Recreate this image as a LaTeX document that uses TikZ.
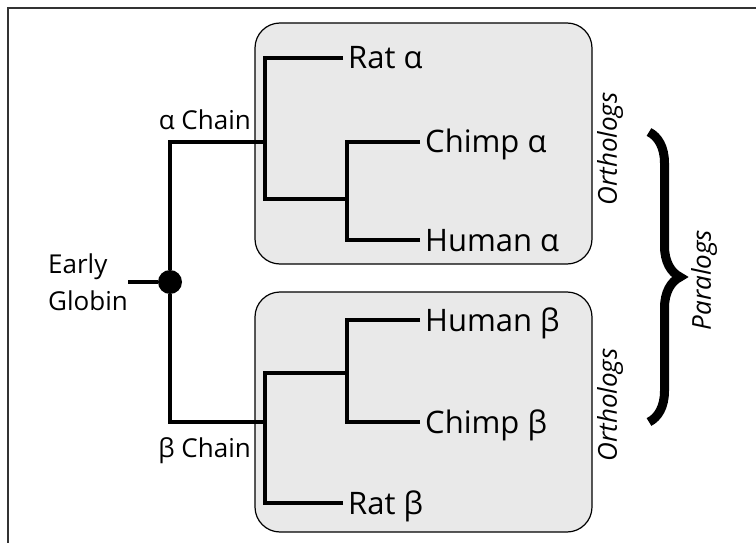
\documentclass[tikz,border=0pt]{standalone}
\usepackage{fontspec}
\setmainfont{Open Sans}
\usetikzlibrary{decorations.pathreplacing}
\definecolor{boxgray}{HTML}{E9E9E9}

\begin{document}
\begin{tikzpicture}[x=1pt, y=-1pt]
\tikzstyle{tip}=[anchor=west, inner xsep=5pt, inner ysep=0pt, text height=22pt, text depth=0pt, font=\fontsize{31}{37}\selectfont];
\tikzstyle{lbl}=[inner sep=0pt, font=\fontsize{26}{37}\selectfont];
\tikzstyle{ortho}=[lbl, rotate=90, anchor=north, font=\fontsize{26}{37}\selectfont\itshape];
\tikzstyle{box}=[draw, line width=1.2pt, fill=boxgray, rounded corners=25pt, minimum width=337pt];
\tikzstyle{branch}=[line width=3.5pt];
\useasboundingbox (0,0) rectangle (756,543);
\draw [line width=1.5pt, black!80] (8,543) |- (756,8); % frame
\node [box, minimum height=241pt] (boxA) at (423.5,143.5) {};
\node [box, minimum height=240pt] (boxB) at (423.5,412) {};
\node [circle, fill, inner sep=0pt, minimum size=24pt] (root) at (170,282) {};
\node [lbl, align=left, anchor=west] (early) at (48,282) {Early\\Globin};
\node [lbl, anchor=base east] (cA) at (251,130) {α Chain};
\node [lbl, anchor=base east] (cB) at (251,457) {β Chain};
\coordinate (jA) at (265,142);
\coordinate (kA) at (347,199);
\coordinate (jB) at (265,422);
\coordinate (kB) at (347,373);
\node [tip] (ratA) at (343,58) {Rat α};
\node [tip] (chimpA) at (420,142) {Chimp α};
\node [tip] (humanA) at (420,240) {Human α};
\node [tip] (humanB) at (420,320) {Human β};
\node [tip] (chimpB) at (420,422) {Chimp β};
\node [tip] (ratB) at (343,503) {Rat β};
\draw [branch] (early) -- (root)
(root) |- (jA) (root) |- (jB)
(ratA.west) -| (jA) (kA) -| (jA)
(chimpA.west) -| (kA) (humanA.west) -| (kA)
(ratB.west) -| (jB) (kB) -| (jB)
(humanB.west) -| (kB) (chimpB.west) -| (kB);
\node [ortho] (orthA) at (597,149) {Orthologs};
\node [ortho] (orthB) at (597,405) {Orthologs};
\node [ortho] (para) at (691,280) {Paralogs};
\coordinate (bt) at (649,132);
\coordinate (bb) at (649,422);
\draw [line width=9pt, decorate, decoration={brace, amplitude=31pt}] (bt) -- (bb);
\end{tikzpicture}
\end{document}
